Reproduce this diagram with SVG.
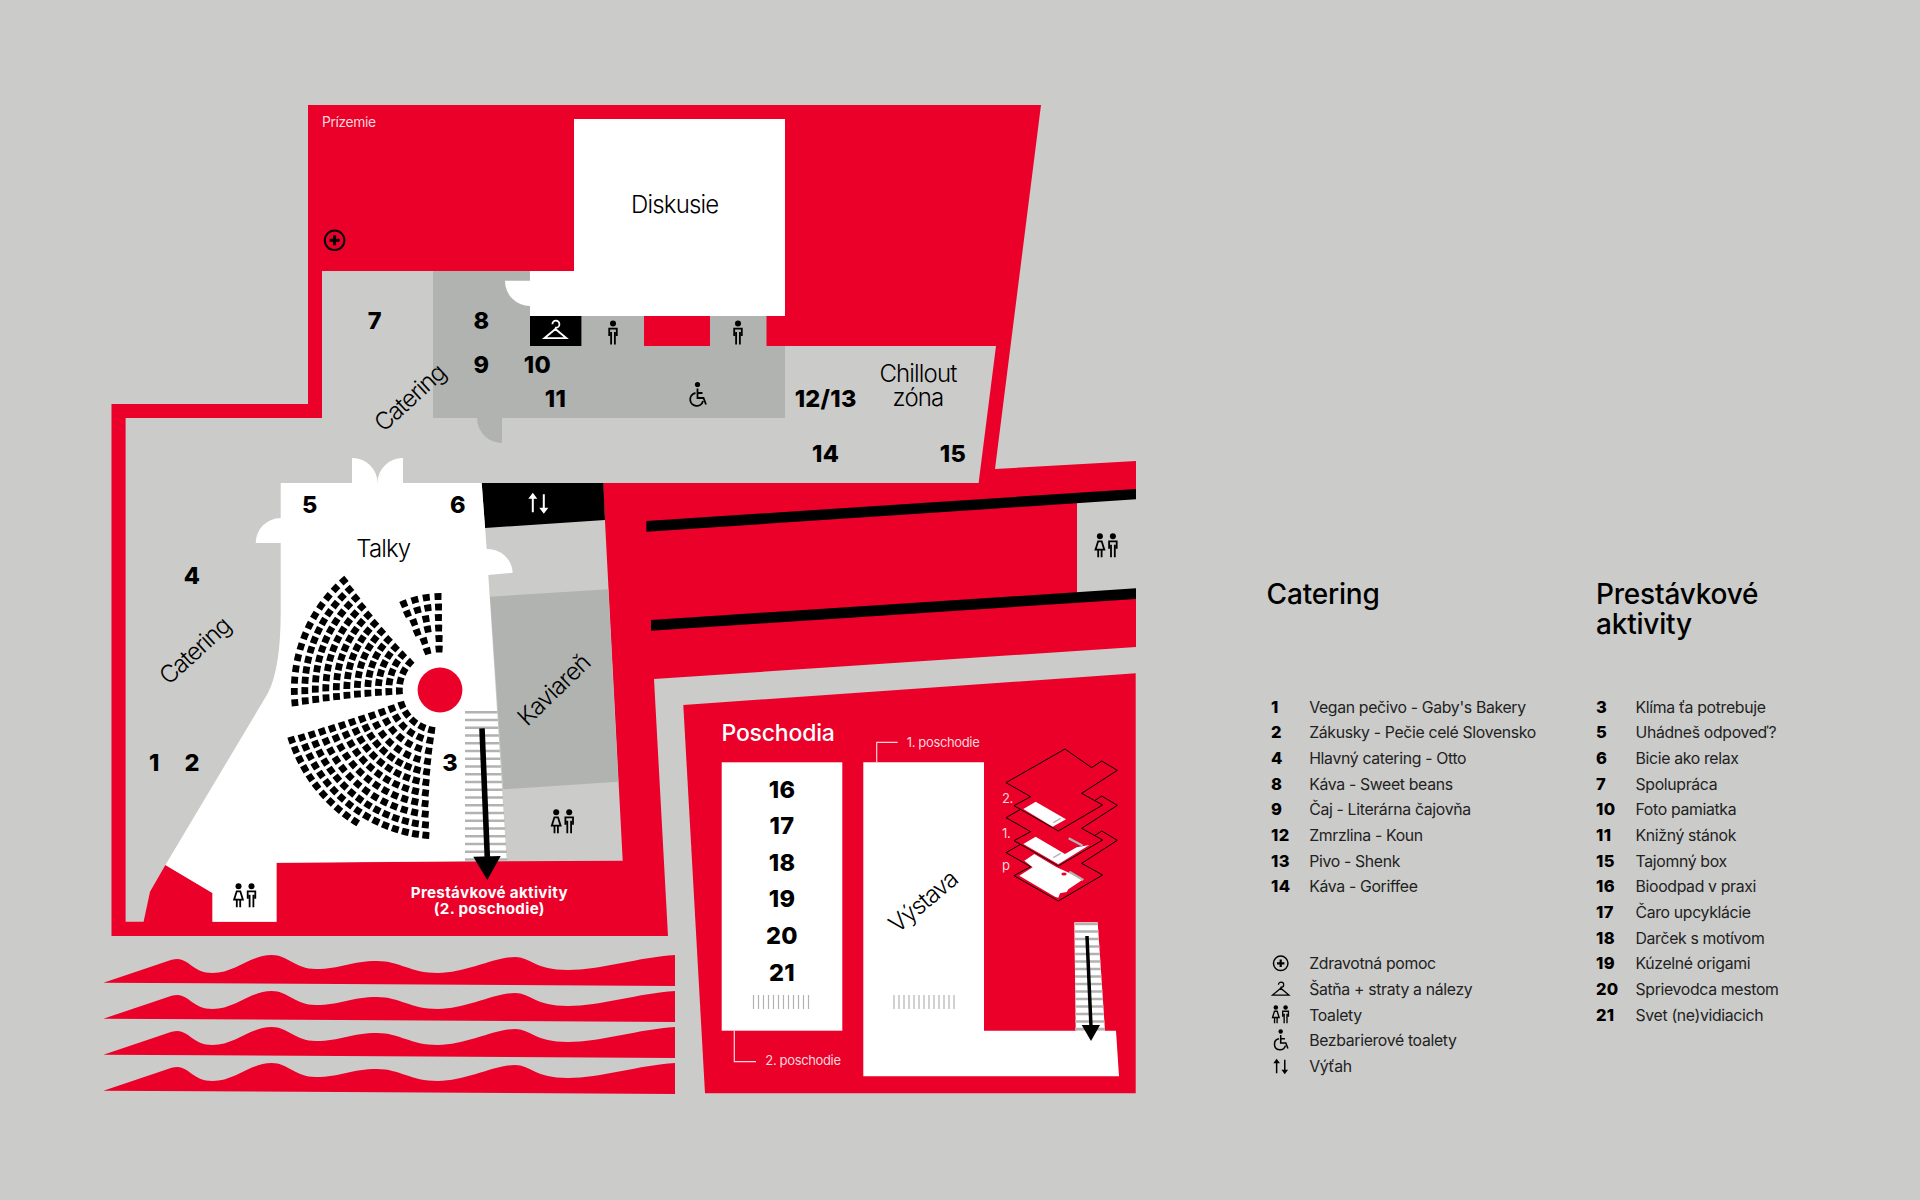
<svg xmlns="http://www.w3.org/2000/svg" xmlns:xlink="http://www.w3.org/1999/xlink" width="1920" height="1200" viewBox="0 0 1920 1200">
<style>
text{font-family:Inter,"Liberation Sans",sans-serif;fill:#000}
.n{font-size:23.5px;font-weight:800;text-anchor:middle;letter-spacing:.3px}
.lab{font-size:24px;font-weight:300;text-anchor:middle;letter-spacing:-.85px}
.rot{letter-spacing:-1.1px}
.sm{font-size:13px;fill:#fbd6dc;letter-spacing:-.35px}
.h{font-size:28px;font-weight:500;letter-spacing:-.2px}
.ln{font-size:16.5px;font-weight:800;letter-spacing:.35px}
.lt{font-size:15.8px;letter-spacing:-.33px;fill:#222}
.wb{font-size:15.2px;font-weight:700;fill:#fff;text-anchor:middle;letter-spacing:.3px}
.red{fill:#EB0029}.wh{fill:#fff}.bk{fill:#000}.g1{fill:#CBCBC9}.g2{fill:#B1B3B1}
.st{fill:none;stroke:#B1B3B1;stroke-width:2.6}
.tick{fill:none;stroke:#B1B3B1;stroke-width:1.2}
.seat{fill:none;stroke:#000;stroke-width:6.8}
.ic{fill:none;stroke:currentColor;stroke-width:1.8}
.icf{fill:currentColor}
.leader{fill:none;stroke:#fbd6dc;stroke-width:1.2}
.iso{fill:#EB0029;stroke:#000;stroke-width:3}
</style>
<defs>
<g id="person-m"><circle class="icf" cx="0" cy="-9.500" r="3"/><path class="ic" d="M-3.800 3V-4.400H3.800V3M-1.900 -1V11.500M1.900 -1V11.500"/></g>
<g id="person-w"><circle class="icf" cx="0" cy="-9.500" r="3"/><path class="ic" d="M-1.800 -4.400H1.800L4.400 4H-4.400ZM-1.700 4V11.500M1.700 4V11.500"/></g>
<g id="toilets"><use xlink:href="#person-w" x="-6.500"/><use xlink:href="#person-m" x="6.500"/></g>
<g id="lift"><path class="ic" style="stroke-width:2" d="M-5.500 -6V9M5.500 6V-9"/><path class="icf" d="M-5.500 -10.500L-10 -4.500H-1ZM5.500 10.500L10 4.500H1Z"/></g>
<g id="hanger"><path class="ic" d="M0 -1.700L-11 7.500H11ZM-3 -6.500A3.500 3.500 0 1 1 .5 -3L0 -1.700"/></g>
<g id="plus"><circle class="ic" r="9.800" style="stroke-width:2"/><path class="icf" d="M-1.500 -5H1.500V-1.500H5V1.500H1.500V5H-1.500V1.500H-5V-1.500H-1.500Z"/></g>
<g id="wheel"><circle class="icf" cx="0" cy="-10.500" r="2.600"/><path class="ic" d="M0 -6.500V3H6L8.500 9.500M0 -2H5M-2 -2A6.500 6.500 0 1 0 5.500 6"/></g>
<path id="wave" d="M103.400 982.700L165 962C176 958 180 958 188 963C197 970 203 973 212.500 973C235 973 250 955 271.800 955C288 955 295 969 316 969C340 969 352 961 377 961C400 961 410 973 438 973C465 973 495 957 515 957C530 957 535 970 568 970C600 970 640 957 675 955V986Z"/>
<polygon id="layer" points="225,57 305,113 335,93 382,121 275,190 338,225 205,303 72,227 122,200 48,158"/>
</defs>
<rect id="background" width="1920" height="1200" class="g1"/>

<g id="ground-floor">
<polygon class="red" points="308,105 1041,105 995,469 1136,461 1136,647 654,679 668,936 111.500,936 111.500,404 308,404"/>
<polygon class="g1" points="322,271 530,271 530,346 996,346 978.600,483 603,483 622.700,860.700 276.400,862.700 276.400,921.700 212.500,921.700 212.500,893 165.400,865 150,891.700 143.600,921.700 125.600,921.700 125.600,418 322,418"/>
<path class="g2" d="M433 271H530V316H766.500V346H785V418H502V443A25 25 0 0 1 477 418H433Z"/>
<polygon class="red" points="644,316 710,316 710,346 644,346"/>
<path class="wh" d="M574 119H785V316H530V271H574Z"/>
<path class="g2" d="M505 280.700H530V271H505Z"/>
<path class="wh" d="M505 280.700H530V306A25 25 0 0 1 505 280.700Z"/>
<rect class="bk" x="530" y="316" width="51.400" height="30"/>
<polygon class="bk" points="481.700,483 603.300,483 605,520 485,528"/>
<polygon class="g2" points="490,596.700 608.300,589.300 618.300,781.700 503.300,789.300"/>
<path class="wh" d="M280.700 483H352V458A25 25 0 0 1 377.500 483A25 25 0 0 1 403 458V483H481.700L486.700 549A25 25 0 0 1 512.700 572.700L488.300 575L506.700 860.700L276.500 862.700V921.700H212.500V893L165.400 865L240 740L268 693Q280.700 668 280.700 612V543H255.700A25 25 0 0 1 280.700 518Z"/>
<rect class="g1" x="1077" y="495" width="59" height="100"/>
<polygon class="bk" points="646.400,521 1136,489 1136,499.300 646.400,531.700"/>
<polygon class="bk" points="651,620 1136,588.300 1136,599 651,630.700"/>
</g>

<g id="seating">
<circle class="red" cx="440" cy="690" r="22.400"/>
<g id="fan-upper-left">
<circle class="seat" cx="440" cy="690" r="40.700" pathLength="360" transform="rotate(173.7 440 690)" stroke-dasharray="9.85 4.62 9.85 4.62 9.85 4.62 9.85 360"/>
<circle class="seat" cx="440" cy="690" r="51.200" pathLength="360" transform="rotate(174.3 440 690)" stroke-dasharray="7.83 3.27 7.83 3.27 7.83 3.27 7.83 3.27 7.83 360"/>
<circle class="seat" cx="440" cy="690" r="61.700" pathLength="360" transform="rotate(174.65 440 690)" stroke-dasharray="6.5 2.58 6.5 2.58 6.5 2.58 6.5 2.58 6.5 2.58 6.5 360"/>
<circle class="seat" cx="440" cy="690" r="72.200" pathLength="360" transform="rotate(174.7 440 690)" stroke-dasharray="5.55 2.2 5.55 2.2 5.55 2.2 5.55 2.2 5.55 2.2 5.55 2.2 5.55 360"/>
<circle class="seat" cx="440" cy="690" r="82.700" pathLength="360" transform="rotate(174.8 440 690)" stroke-dasharray="4.85 1.94 4.85 1.94 4.85 1.94 4.85 1.94 4.85 1.94 4.85 1.94 4.85 1.94 4.85 360"/>
<circle class="seat" cx="440" cy="690" r="93.200" pathLength="360" transform="rotate(174.65 440 690)" stroke-dasharray="4.3 1.76 4.3 1.76 4.3 1.76 4.3 1.76 4.3 1.76 4.3 1.76 4.3 1.76 4.3 1.76 4.3 360"/>
<circle class="seat" cx="440" cy="690" r="103.700" pathLength="360" transform="rotate(174.45 440 690)" stroke-dasharray="3.87 1.64 3.87 1.64 3.87 1.64 3.87 1.64 3.87 1.64 3.87 1.64 3.87 1.64 3.87 1.64 3.87 1.64 3.87 360"/>
<circle class="seat" cx="440" cy="690" r="114.200" pathLength="360" transform="rotate(174.35 440 690)" stroke-dasharray="3.51 1.55 3.51 1.55 3.51 1.55 3.51 1.55 3.51 1.55 3.51 1.55 3.51 1.55 3.51 1.55 3.51 1.55 3.51 1.55 3.51 360"/>
<circle class="seat" cx="440" cy="690" r="124.700" pathLength="360" transform="rotate(174.1 440 690)" stroke-dasharray="3.22 1.48 3.22 1.48 3.22 1.48 3.22 1.48 3.22 1.48 3.22 1.48 3.22 1.48 3.22 1.48 3.22 1.48 3.22 1.48 3.22 1.48 3.22 360"/>
<circle class="seat" cx="440" cy="690" r="135.200" pathLength="360" transform="rotate(173.9 440 690)" stroke-dasharray="2.97 1.41 2.97 1.41 2.97 1.41 2.97 1.41 2.97 1.41 2.97 1.41 2.97 1.41 2.97 1.41 2.97 1.41 2.97 1.41 2.97 1.41 2.97 1.41 2.97 360"/>
<circle class="seat" cx="440" cy="690" r="145.700" pathLength="360" transform="rotate(173.6 440 690)" stroke-dasharray="2.75 1.725 2.75 1.725 2.75 1.725 2.75 1.725 2.75 1.725 2.75 1.725 2.75 1.725 2.75 1.725 2.75 1.725 2.75 1.725 2.75 1.725 2.75 1.725 2.75 360"/>
</g>
<g id="fan-lower">
<circle class="seat" cx="440" cy="690" r="41" pathLength="360" transform="rotate(96.9 440 690)" stroke-dasharray="9.78 4.42 9.78 4.42 9.78 4.42 9.78 4.42 9.78 360"/>
<circle class="seat" cx="440" cy="690" r="51.500" pathLength="360" transform="rotate(97.3 440 690)" stroke-dasharray="7.79 3.74 7.79 3.74 7.79 3.74 7.79 3.74 7.79 3.74 7.79 360"/>
<circle class="seat" cx="440" cy="690" r="62" pathLength="360" transform="rotate(97.35 440 690)" stroke-dasharray="6.47 3.28 6.47 3.28 6.47 3.28 6.47 3.28 6.47 3.28 6.47 3.28 6.47 360"/>
<circle class="seat" cx="440" cy="690" r="72.500" pathLength="360" transform="rotate(97.15 440 690)" stroke-dasharray="5.53 2.96 5.53 2.96 5.53 2.96 5.53 2.96 5.53 2.96 5.53 2.96 5.53 2.96 5.53 360"/>
<circle class="seat" cx="440" cy="690" r="83" pathLength="360" transform="rotate(96.9 440 690)" stroke-dasharray="4.83 1.87 4.83 1.87 4.83 1.87 4.83 1.87 4.83 1.87 4.83 1.87 4.83 1.87 4.83 1.87 4.83 1.87 4.83 360"/>
<circle class="seat" cx="440" cy="690" r="93.500" pathLength="360" transform="rotate(96.55 440 690)" stroke-dasharray="4.29 1.83 4.29 1.83 4.29 1.83 4.29 1.83 4.29 1.83 4.29 1.83 4.29 1.83 4.29 1.83 4.29 1.83 4.29 1.83 4.29 360"/>
<circle class="seat" cx="440" cy="690" r="104" pathLength="360" transform="rotate(96.15 440 690)" stroke-dasharray="3.86 1.78 3.86 1.78 3.86 1.78 3.86 1.78 3.86 1.78 3.86 1.78 3.86 1.78 3.86 1.78 3.86 1.78 3.86 1.78 3.86 1.78 3.86 360"/>
<circle class="seat" cx="440" cy="690" r="114.500" pathLength="360" transform="rotate(95.75 440 690)" stroke-dasharray="3.5 1.74 3.5 1.74 3.5 1.74 3.5 1.74 3.5 1.74 3.5 1.74 3.5 1.74 3.5 1.74 3.5 1.74 3.5 1.74 3.5 1.74 3.5 1.74 3.5 360"/>
<circle class="seat" cx="440" cy="690" r="125" pathLength="360" transform="rotate(95.2 440 690)" stroke-dasharray="3.21 1.7 3.21 1.7 3.21 1.7 3.21 1.7 3.21 1.7 3.21 1.7 3.21 1.7 3.21 1.7 3.21 1.7 3.21 1.7 3.21 1.7 3.21 1.7 3.21 1.7 3.21 360"/>
<circle class="seat" cx="440" cy="690" r="135.500" pathLength="360" transform="rotate(94.7 440 690)" stroke-dasharray="2.96 1.35 2.96 1.35 2.96 1.35 2.96 1.35 2.96 1.35 2.96 1.35 2.96 1.35 2.96 1.35 2.96 1.35 2.96 1.35 2.96 1.35 2.96 1.35 2.96 1.35 2.96 1.35 2.96 1.35 2.96 360"/>
<circle class="seat" cx="440" cy="690" r="146" pathLength="360" transform="rotate(94.2 440 690)" stroke-dasharray="2.75 1.34 2.75 1.34 2.75 1.34 2.75 1.34 2.75 1.34 2.75 1.34 2.75 1.34 2.75 1.34 2.75 1.34 2.75 1.34 2.75 1.34 2.75 1.34 2.75 1.34 2.75 1.34 2.75 1.34 2.75 1.34 2.75 360"/>
<circle class="seat" cx="440" cy="690" r="156.500" pathLength="360" transform="rotate(121.5 440 690)" stroke-dasharray="2.56 1.3 2.56 1.3 2.56 1.3 2.56 1.3 2.56 1.3 2.56 1.3 2.56 1.3 2.56 1.3 2.56 1.3 2.56 1.3 2.56 360"/>
</g>
<g id="fan-upper-right">
<circle class="seat" cx="440" cy="690" r="41" pathLength="360" transform="rotate(247.1 440 690)" stroke-dasharray="9.78 7.02 9.78 360"/>
<circle class="seat" cx="440" cy="690" r="51.500" pathLength="360" transform="rotate(248.1 440 690)" stroke-dasharray="7.79 9.2 7.79 360"/>
<circle class="seat" cx="440" cy="690" r="62" pathLength="360" transform="rotate(245.25 440 690)" stroke-dasharray="6.47 3.68 6.47 3.68 6.47 360"/>
<circle class="seat" cx="440" cy="690" r="72.500" pathLength="360" transform="rotate(246.15 440 690)" stroke-dasharray="5.53 4.42 5.53 4.42 5.53 360"/>
<circle class="seat" cx="440" cy="690" r="83" pathLength="360" transform="rotate(244.6 440 690)" stroke-dasharray="4.83 2.5 4.83 2.5 4.83 2.5 4.83 360"/>
<circle class="seat" cx="440" cy="690" r="93.500" pathLength="360" transform="rotate(245.15 440 690)" stroke-dasharray="4.29 2.88 4.29 2.88 4.29 2.88 4.29 360"/>
</g>
</g>

<g id="stairs-ground">
<path class="st" d="M465 712.300H497.300M465 720H497.800M465 727.800H498.300M465 735.500H498.900M465 743.300H499.400M465 751H499.900M465 758.800H500.400M465 766.500H500.900M465 774.300H501.500M465 782H502M465 789.800H502.500M465 797.500H503M465 805.300H503.500M465 813H504.100M465 820.800H504.600M465 828.500H505.100M465 836.300H505.600M465 844H506.100M465 851.800H506.700M465 859.500H507.200"/>
<path d="M482 728.300L487.300 857" fill="none" stroke="#000" stroke-width="5.600"/>
<polygon class="bk" points="473.300,856.700 500.700,856 487.300,880"/>
</g>

<g id="upper-floor">
<polygon class="red" points="683.300,705 1135.700,673.300 1135.700,1093.300 705,1093.300"/>
<rect class="wh" x="721.700" y="762.300" width="120.600" height="268.400"/>
<polygon class="wh" points="863.300,762.300 984,762.300 984,1030.700 1116,1030.700 1119,1076.300 863.300,1076.300"/>
<path class="leader" d="M876.700 762.300V742.300H897.700M734.300 1030.700V1061.700H756"/>
<path d="M754 995V1009M759 995V1009M764 995V1009M769 995V1009M774 995V1009M779 995V1009M784 995V1009M789 995V1009M794 995V1009M799 995V1009M804 995V1009M809 995V1009" class="tick" transform="translate(-.500 0)"/>
<path d="M894 995V1009M899 995V1009M904 995V1009M909 995V1009M914 995V1009M919 995V1009M924 995V1009M929 995V1009M934 995V1009M939 995V1009M944 995V1009M949 995V1009M954 995V1009" class="tick"/>
<polygon class="wh" points="1074.300,922.300 1097.700,922.300 1105,1030.700 1075.700,1030.700"/>
<path class="st" d="M1075 924H1097.800M1075 931.500H1098.300M1075 939H1098.800M1075 946.500H1099.300M1075 954H1099.800M1075 961.500H1100.300M1075 969H1100.900M1075 976.500H1101.400M1075 984H1101.900M1075 991.500H1102.400M1075 999H1102.900M1075 1006.500H1103.400M1075 1014H1103.900M1075 1021.500H1104.400M1075 1029H1104.900"/>
<path d="M1087 936L1091 1027" fill="none" stroke="#000" stroke-width="3.500"/>
<polygon class="bk" points="1081.700,1025 1100,1025 1091,1041"/>
</g>

<g id="iso-floors" transform="translate(990 730) scale(.33333)">
<use xlink:href="#layer" class="iso" y="210"/>
<polygon class="wh" points="103,392 133,372 200,412 280,448 235,478 230,486 210,490 205,503 195,500 88,437 128,412"/>
<path d="M238 425L280 450" stroke="#B1B3B1" stroke-width="7" fill="none"/>
<ellipse class="red" cx="222" cy="432" rx="8" ry="4.500"/>
<use xlink:href="#layer" class="iso" y="105"/>
<polygon class="wh" points="100,342 137,320 225,372 260,352 298,345 205,403"/>
<path d="M236 325L278 347" stroke="#B1B3B1" stroke-width="7" fill="none"/>
<path d="M190 383L212 370" stroke="#B1B3B1" stroke-width="4" fill="none"/>
<use xlink:href="#layer" class="iso"/>
<polygon class="wh" points="100,237 137,215 228,268 188,290"/>
<path d="M190 278L212 265" stroke="#B1B3B1" stroke-width="4" fill="none"/>
</g>

<g id="waves" class="red">
<use xlink:href="#wave"/>
<use xlink:href="#wave" y="36"/>
<use xlink:href="#wave" y="72"/>
<use xlink:href="#wave" y="108"/>
</g>

<g id="icons">
<use xlink:href="#plus" transform="translate(334.600 240.300)" color="#000"/>
<use xlink:href="#hanger" transform="translate(555.400 330.700)" color="#fff"/>
<use xlink:href="#person-m" transform="translate(613 333)" color="#000"/>
<use xlink:href="#person-m" transform="translate(738 333)" color="#000"/>
<use xlink:href="#wheel" transform="translate(697.500 395)" color="#000"/>
<use xlink:href="#lift" transform="translate(538.300 503.300)" color="#fff"/>
<use xlink:href="#toilets" transform="translate(1106.400 545.700)" color="#000"/>
<use xlink:href="#toilets" transform="translate(562.700 821.700)" color="#000"/>
<use xlink:href="#toilets" transform="translate(245 895.700)" color="#000"/>
</g>

<g id="map-labels">
<text class="sm" x="322" y="127" style="font-size:13.800px">Prízemie</text>
<text class="lab" x="674.700" y="213">Diskusie</text>
<text class="lab" x="383.300" y="557.300">Talky</text>
<text class="lab" x="918" y="382">Chillout</text>
<text class="lab" x="918" y="406">zóna</text>
<text class="lab rot" transform="translate(410 398) rotate(-42.500)" y="8">Catering</text>
<text class="lab rot" transform="translate(195 651) rotate(-42.500)" y="8">Catering</text>
<text class="lab" transform="translate(554 690) rotate(-44)" y="8">Kaviareň</text>
<text class="lab rot" transform="translate(923.300 901.700) rotate(-40)" y="8">Výstava</text>
<text class="wb" x="489.300" y="898">Prestávkové aktivity</text>
<text class="wb" x="489.300" y="914">(2. poschodie)</text>
<text x="721.500" y="740.500" style="font-size:23px;font-weight:500;fill:#fff;letter-spacing:-.2px">Poschodia</text>
<text class="sm" x="906.700" y="746.700">1. poschodie</text>
<text class="sm" x="765.300" y="1065">2. poschodie</text>
<text class="sm" x="1002" y="802.700">2.</text>
<text class="sm" x="1002" y="837.700">1.</text>
<text class="sm" x="1002" y="870">p</text>
<text class="n" x="374.800" y="329">7</text>
<text class="n" x="481.500" y="329">8</text>
<text class="n" x="481.500" y="372.500">9</text>
<text class="n" x="537.400" y="372.500">10</text>
<text class="n" x="555.400" y="406.500">11</text>
<text class="n" x="309.700" y="513">5</text>
<text class="n" x="458" y="513">6</text>
<text class="n" x="450" y="771">3</text>
<text class="n" x="192" y="584">4</text>
<text class="n" x="154.300" y="771">1</text>
<text class="n" x="192.200" y="771">2</text>
<text class="n" x="825.700" y="406.500">12/13</text>
<text class="n" x="825.700" y="462">14</text>
<text class="n" x="952.900" y="462">15</text>
<text class="n" x="782" y="797.500">16</text>
<text class="n" x="782" y="834">17</text>
<text class="n" x="782" y="870.500">18</text>
<text class="n" x="782" y="907">19</text>
<text class="n" x="782" y="944">20</text>
<text class="n" x="782" y="980.500">21</text>
</g>

<g id="legend">
<text class="h" x="1266.600" y="603.500">Catering</text>
<text class="h" x="1596" y="603.500">Prestávkové</text>
<text class="h" x="1596" y="633.500">aktivity</text>
<text class="ln" x="1271" y="712.500">1</text><text class="lt" x="1309.200" y="712.500">Vegan pečivo - Gaby's Bakery</text>
<text class="ln" x="1271" y="738.200">2</text><text class="lt" x="1309.200" y="738.200">Zákusky - Pečie celé Slovensko</text>
<text class="ln" x="1271" y="763.800">4</text><text class="lt" x="1309.200" y="763.800">Hlavný catering - Otto</text>
<text class="ln" x="1271" y="789.500">8</text><text class="lt" x="1309.200" y="789.500">Káva - Sweet beans</text>
<text class="ln" x="1271" y="815.200">9</text><text class="lt" x="1309.200" y="815.200">Čaj - Literárna čajovňa</text>
<text class="ln" x="1271" y="840.800">12</text><text class="lt" x="1309.200" y="840.800">Zmrzlina - Koun</text>
<text class="ln" x="1271" y="866.500">13</text><text class="lt" x="1309.200" y="866.500">Pivo - Shenk</text>
<text class="ln" x="1271" y="892.200">14</text><text class="lt" x="1309.200" y="892.200">Káva - Goriffee</text>
<use xlink:href="#plus" transform="translate(1280.700 963.300) scale(.74)" color="#000"/><text class="lt" x="1309.200" y="969">Zdravotná pomoc</text>
<use xlink:href="#hanger" transform="translate(1280.700 989.500) scale(.74)" color="#000"/><text class="lt" x="1309.200" y="995">Šatňa + straty a nálezy</text>
<use xlink:href="#toilets" transform="translate(1280.700 1014.500) scale(.75)" color="#000"/><text class="lt" x="1309.200" y="1020.700">Toalety</text>
<use xlink:href="#wheel" transform="translate(1280.700 1040.500) scale(.85)" color="#000"/><text class="lt" x="1309.200" y="1046.400">Bezbarierové toalety</text>
<use xlink:href="#lift" transform="translate(1280.700 1066.500) scale(.74)" color="#000"/><text class="lt" x="1309.200" y="1072">Výťah</text>
<text class="ln" x="1596" y="712.500">3</text><text class="lt" x="1635.500" y="712.500">Klíma ťa potrebuje</text>
<text class="ln" x="1596" y="738.200">5</text><text class="lt" x="1635.500" y="738.200">Uhádneš odpoveď?</text>
<text class="ln" x="1596" y="763.800">6</text><text class="lt" x="1635.500" y="763.800">Bicie ako relax</text>
<text class="ln" x="1596" y="789.500">7</text><text class="lt" x="1635.500" y="789.500">Spolupráca</text>
<text class="ln" x="1596" y="815.200">10</text><text class="lt" x="1635.500" y="815.200">Foto pamiatka</text>
<text class="ln" x="1596" y="840.800">11</text><text class="lt" x="1635.500" y="840.800">Knižný stánok</text>
<text class="ln" x="1596" y="866.500">15</text><text class="lt" x="1635.500" y="866.500">Tajomný box</text>
<text class="ln" x="1596" y="892.200">16</text><text class="lt" x="1635.500" y="892.200">Bioodpad v praxi</text>
<text class="ln" x="1596" y="917.800">17</text><text class="lt" x="1635.500" y="917.800">Čaro upcyklácie</text>
<text class="ln" x="1596" y="943.500">18</text><text class="lt" x="1635.500" y="943.500">Darček s motívom</text>
<text class="ln" x="1596" y="969.200">19</text><text class="lt" x="1635.500" y="969.200">Kúzelné origami</text>
<text class="ln" x="1596" y="995">20</text><text class="lt" x="1635.500" y="995">Sprievodca mestom</text>
<text class="ln" x="1596" y="1020.700">21</text><text class="lt" x="1635.500" y="1020.700">Svet (ne)vidiacich</text>
</g>
</svg>
